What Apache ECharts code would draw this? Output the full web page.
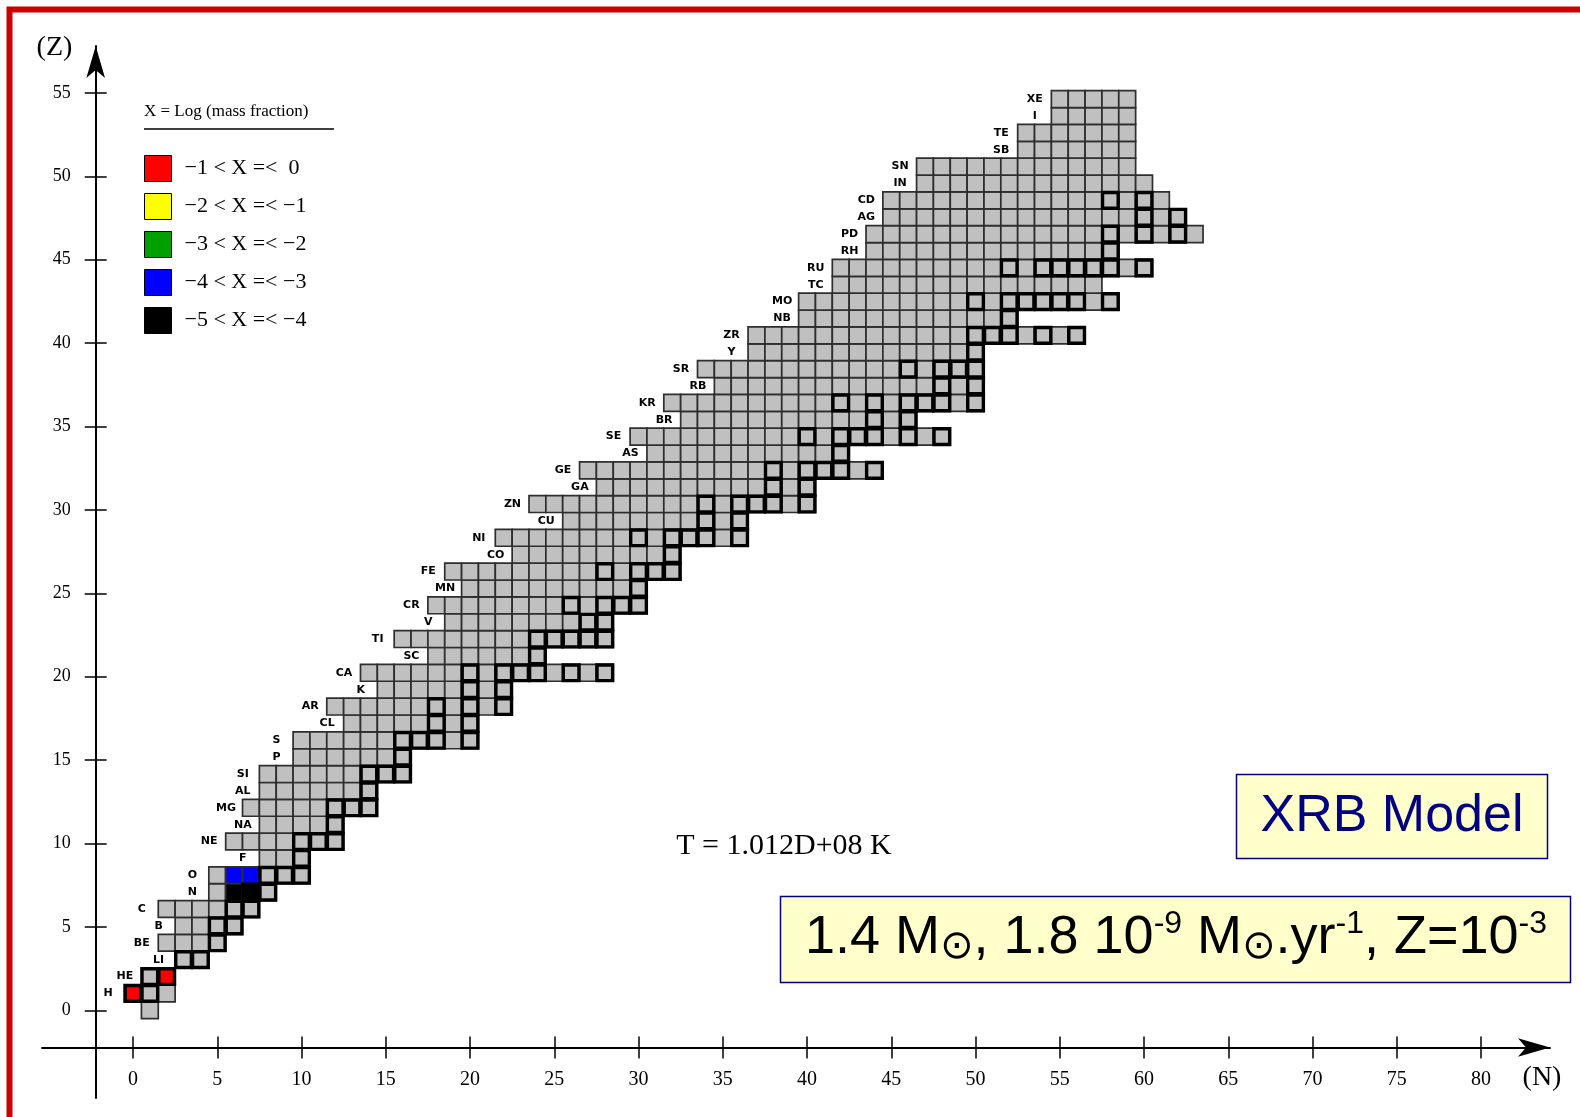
<!DOCTYPE html>
<html>
<head>
<meta charset="utf-8">
<script src="https://cdn.jsdelivr.net/npm/echarts@6/dist/echarts.min.js"></script>
<style>
html,body{margin:0;padding:0;background:#fff;}
#chart{width:1580px;height:1117px;}
</style>
</head>
<body>
<div id="chart"></div>
<script>
// ---- data ----
const N_TICKS = [0,5,10,15,20,25,30,35,40,45,50,55,60,65,70,75,80];
const Z_TICKS = [0,5,10,15,20,25,30,35,40,45,50,55];
// element symbol for each Z (index = Z)
const elements = ['', 'H','HE','LI','BE','B','C','N','O','F','NE','NA','MG','AL','SI','P','S','CL','AR','K','CA',
  'SC','TI','V','CR','MN','FE','CO','NI','CU','ZN','GA','GE','AS','SE','BR','KR','RB','SR','Y','ZR',
  'NB','MO','TC','RU','RH','PD','AG','CD','IN','SN','SB','TE','I','XE'];
// lowest and highest neutron number drawn in each row Z
const rowNmin = [1,0,1,3,2,3,2,5,5,8,6,8,7,8,8,10,10,13,12,15,14,18,16,19,18,20,19,23,22,26,24,28,27,31,30,33,32,35,34,37,37,40,40,42,42,44,44,45,45,47,47,53,53,55,55];
const rowNmax = [1,2,2,4,5,6,7,8,10,10,12,12,14,14,16,16,20,20,22,22,28,24,28,28,30,30,32,32,36,36,40,40,44,42,48,46,50,50,50,50,56,52,58,57,60,58,63,62,61,60,59,59,59,59,59];
// thick-bordered (stable) cells: neutron numbers per Z
const stableN = [[],[0,1],[1,2],[3,4],[5],[5,6],[6,7],[7,8],[8,9,10],[10],[10,11,12],[12],[12,13,14],[14],[14,15,16],[16],
  [16,17,18,20],[18,20],[18,20,22],[20,22],[20,22,23,24,26,28],[24],[24,25,26,27,28],[27,28],[26,28,29,30],[30],
  [28,30,31,32],[32],[30,32,33,34,36],[34,36],[34,36,37,38,40],[38,40],[38,40,41,42,44],[42],[40,42,43,44,46,48],
  [44,46],[42,44,46,47,48,50],[48,50],[46,48,49,50],[50],[50,51,52,54,56],[52],[50,52,53,54,55,56,58],[],
  [52,54,55,56,57,58,60],[58],[58,60,62],[60,62],[58,60],[],[],[],[],[],[]];
// abundance classes (legend) and the cells in each, as [N, Z]
const classNames = ['\u22121 < X =<  0','\u22122 < X =< \u22121','\u22123 < X =< \u22122','\u22124 < X =< \u22123','\u22125 < X =< \u22124'];
const classColors = ['#ff0000','#ffff00','#00a000','#0000ff','#000000'];
const classCells = [
  [[0,1],[2,2]],
  [],
  [],
  [[6,8],[7,8]],
  [[6,7],[7,7]]
];

// ---- build series data ----
const allCells = [];
const stableCells = [];
const labelData = [];
const labelNames = [];
for (let z = 0; z < rowNmin.length; z++) {
  for (let n = rowNmin[z]; n <= rowNmax[z]; n++) allCells.push([n, z]);
  (stableN[z] || []).forEach(n => stableCells.push([n, z]));
  if (elements[z]) { labelData.push([rowNmin[z] - 1.48, z]); labelNames.push(elements[z]); }
}

function cellRenderer(fill, stroke, lw) {
  return function (params, api) {
    const n = api.value(0), z = api.value(1);
    const a = api.coord([n - 0.5, z + 0.5]);
    const b = api.coord([n + 0.5, z - 0.5]);
    return {
      type: 'rect',
      shape: { x: a[0], y: a[1], width: b[0] - a[0], height: b[1] - a[1] },
      style: { fill: fill, stroke: stroke, lineWidth: lw }
    };
  };
}
function stableRenderer(params, api) {
  const n = api.value(0), z = api.value(1);
  const a = api.coord([n - 0.5, z + 0.5]);
  const b = api.coord([n + 0.5, z - 0.5]);
  const d = 0.6;
  return {
    type: 'rect',
    shape: { x: a[0] + d, y: a[1] + d, width: b[0] - a[0] - 2 * d, height: b[1] - a[1] - 2 * d },
    style: { fill: 'none', stroke: '#000', lineWidth: 3.4 }
  };
}
function labelRenderer(params, api) {
  const p = api.coord([api.value(0), api.value(1)]);
  return {
    type: 'text', x: p[0], y: p[1],
    style: { text: labelNames[params.dataIndex], fill: '#000', font: 'bold 11px "DejaVu Sans"', align: 'center', verticalAlign: 'middle' }
  };
}

const chart = echarts.init(document.getElementById('chart'), null, { renderer: 'canvas' });

const series = [
  { type: 'custom', name: 'cells', xAxisIndex: 0, yAxisIndex: 2, data: allCells,
    renderItem: cellRenderer('#c0c0c0', '#2e2e2e', 1.7), silent: true, z: 2 }
];
classNames.forEach((nm, i) => {
  series.push({ type: 'custom', name: nm, xAxisIndex: 0, yAxisIndex: 2, data: classCells[i],
    itemStyle: { color: classColors[i] },
    renderItem: cellRenderer(classColors[i], '#2e2e2e', 1.7), silent: true, z: 3 });
});
series.push({ type: 'custom', name: 'stable', xAxisIndex: 0, yAxisIndex: 2, data: stableCells,
  renderItem: stableRenderer, silent: true, z: 4 });
series.push({ type: 'custom', name: 'labels', xAxisIndex: 0, yAxisIndex: 2, data: labelData,
  renderItem: labelRenderer, silent: true, z: 5 });

const tickFont = 'Liberation Serif';
const option = {
  backgroundColor: '#ffffff',
  animation: false,
  grid: { left: 42, top: 46, width: 1508, height: 1052, containLabel: false },
  legend: {
    left: 144, top: 155, orient: 'vertical', padding: 0,
    itemWidth: 27, itemHeight: 26, itemGap: 11, icon: 'rect', selectedMode: false,
    data: classNames,
    itemStyle: { borderColor: '#000', borderWidth: 1 },
    textStyle: { fontFamily: tickFont, fontSize: 22, color: '#000', padding: [0, 0, 0, 8] }
  },
  xAxis: [
    { type: 'value', min: -5.40, max: 84.09, position: 'bottom', offset: -50.5,
      axisLine: { show: true, onZero: false, symbol: ['none', 'arrow'], symbolSize: [14, 32], lineStyle: { color: '#000', width: 2 } },
      axisTick: { show: true, customValues: N_TICKS, length: 11, inside: false, lineStyle: { color: '#000', width: 1.5 } },
      axisLabel: { customValues: N_TICKS, margin: 22, fontFamily: tickFont, fontSize: 20, color: '#000' },
      splitLine: { show: false } },
    { type: 'value', min: -5.40, max: 84.09, position: 'bottom', offset: -50.5,
      axisLine: { show: false, onZero: false },
      axisTick: { show: true, customValues: N_TICKS, length: 11, inside: true, lineStyle: { color: '#000', width: 1.5 } },
      axisLabel: { show: false }, splitLine: { show: false } }
  ],
  yAxis: [
    { type: 'value', min: -5.26, max: 57.81, position: 'left', offset: -53.7,
      axisLine: { show: true, onZero: false, symbol: ['none', 'arrow'], symbolSize: [14, 32], lineStyle: { color: '#000', width: 2 } },
      axisTick: { show: true, customValues: Z_TICKS, length: 11, inside: false, lineStyle: { color: '#000', width: 1.5 } },
      axisLabel: { customValues: Z_TICKS, margin: 25, fontFamily: tickFont, fontSize: 18, color: '#000' },
      splitLine: { show: false } },
    { type: 'value', min: -5.26, max: 57.81, position: 'left', offset: -53.7,
      axisLine: { show: false, onZero: false },
      axisTick: { show: true, customValues: Z_TICKS, length: 11, inside: true, lineStyle: { color: '#000', width: 1.5 } },
      axisLabel: { show: false }, splitLine: { show: false } },
    { type: 'value', min: -5.20, max: 57.15, position: 'left', show: false, splitLine: { show: false } }
  ],
  series: series,
  graphic: [
    { type: 'rect', shape: { x: 9.5, y: 9.5, width: 1700, height: 1300 }, style: { fill: 'none', stroke: '#cc0000', lineWidth: 6 }, silent: true, z: 100 },
    { type: 'text', x: 54.5, y: 48, style: { text: '(Z)', font: '28px "Liberation Serif"', fill: '#000', align: 'center', verticalAlign: 'middle' } },
    { type: 'text', x: 1542, y: 1078, style: { text: '(N)', font: '28px "Liberation Serif"', fill: '#000', align: 'center', verticalAlign: 'middle' } },
    { type: 'text', x: 144, y: 112, style: { text: 'X = Log (mass fraction)', font: '17px "Liberation Serif"', fill: '#000', align: 'left', verticalAlign: 'middle' } },
    { type: 'line', shape: { x1: 144, y1: 129, x2: 334, y2: 129 }, style: { stroke: '#000', lineWidth: 1.5 } },
    { type: 'text', x: 784, y: 846, style: { text: 'T = 1.012D+08 K', font: '30px "Liberation Serif"', fill: '#000', align: 'center', verticalAlign: 'middle' } },
    { type: 'rect', shape: { x: 1236.5, y: 774.5, width: 311, height: 84 }, style: { fill: '#ffffcc', stroke: '#000080', lineWidth: 1.5 } },
    { type: 'text', x: 1392, y: 817, style: { text: 'XRB Model', font: '52px "Liberation Sans"', fill: '#000080', align: 'center', verticalAlign: 'middle' } },
    { type: 'rect', shape: { x: 780.5, y: 896.5, width: 790, height: 86 }, style: { fill: '#ffffcc', stroke: '#000080', lineWidth: 1.5 } },
    { type: 'text', x: 1176, y: 938,
      style: {
        text: '{m|1.4 M}{s|\u2299}{m|, 1.8 10}{p|-9}{m| M}{s|\u2299}{m|.yr}{p|-1}{m|, Z=10}{p|-3}',
        align: 'center', verticalAlign: 'middle',
        rich: {
          m: { fontFamily: 'Liberation Sans', fontSize: 54, lineHeight: 60, color: '#000080', verticalAlign: 'middle' },
          p: { fontFamily: 'Liberation Sans', fontSize: 32, lineHeight: 44, color: '#000080', verticalAlign: 'top' },
          s: { fontFamily: 'DejaVu Sans', fontSize: 40, lineHeight: 28, color: '#000080', verticalAlign: 'bottom' }
        }
      } }
  ]
};
chart.setOption(option);
</script>
</body>
</html>
